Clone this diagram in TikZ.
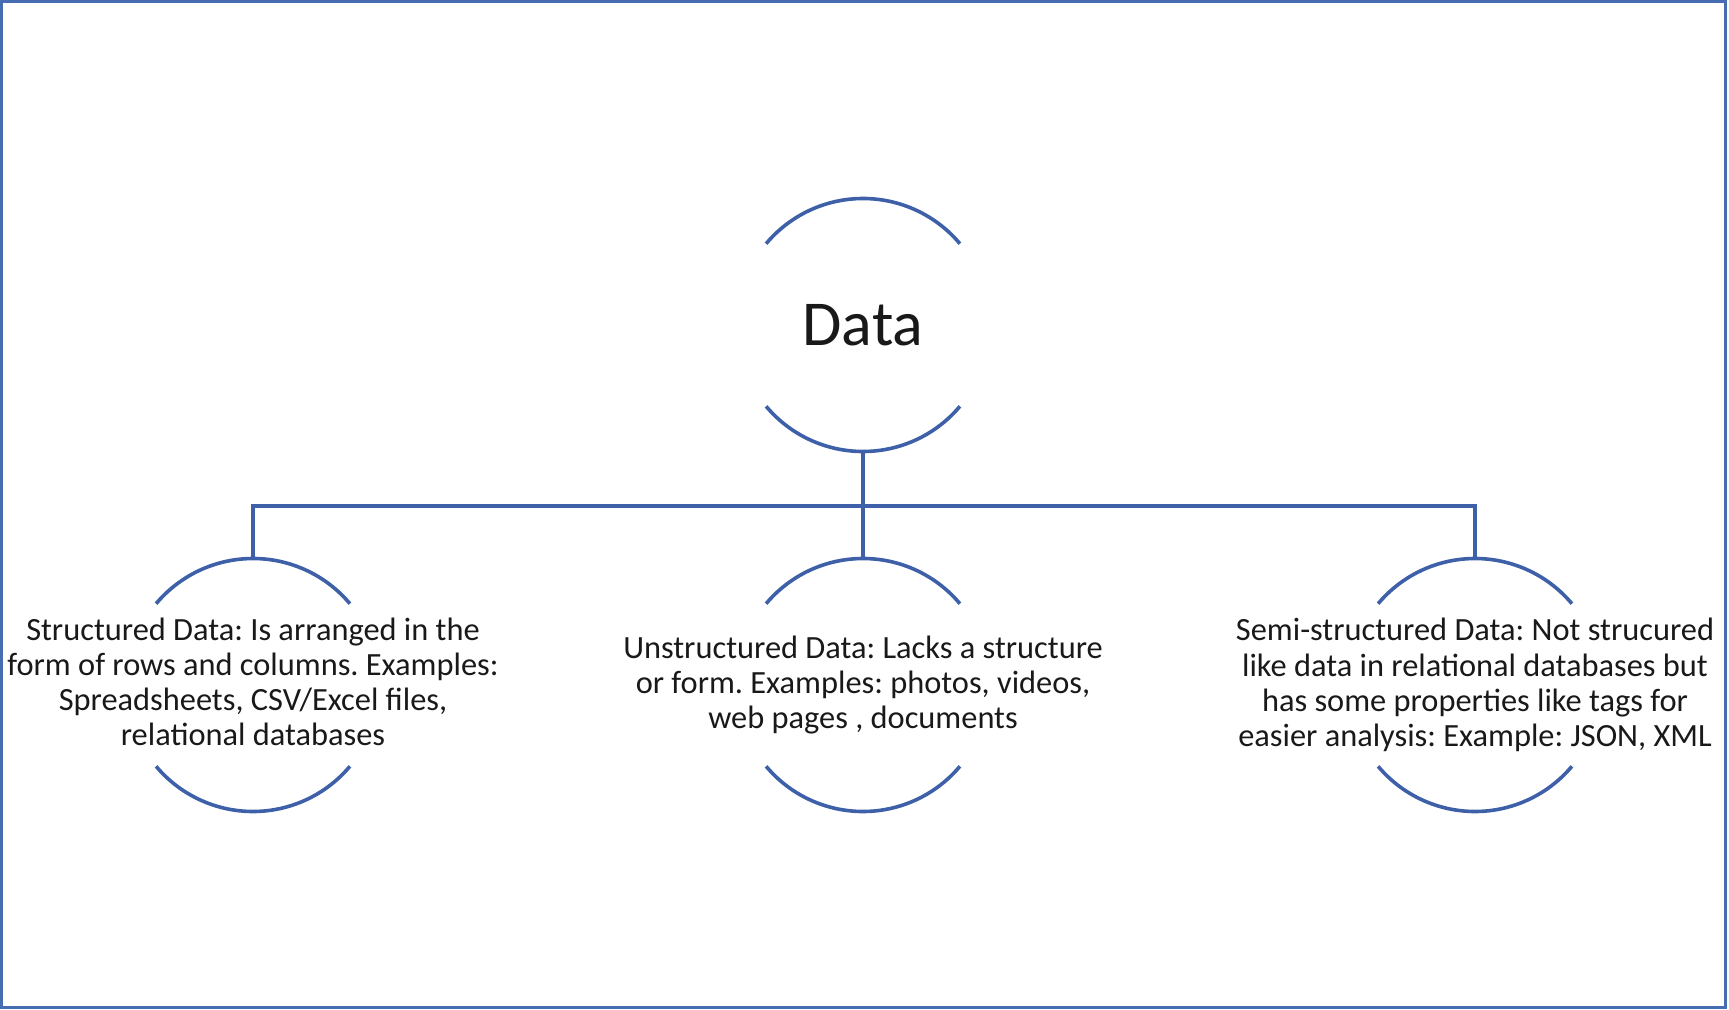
\documentclass[tikz,border=0pt]{standalone}
\usepackage{fontspec}
\setmainfont{Carlito}
\frenchspacing
\definecolor{ringblue}{RGB}{61,96,168}
\definecolor{frameblue}{RGB}{72,108,178}
\begin{document}
\begin{tikzpicture}[x=0.5pt,y=0.5pt,
        ring/.style={circle,minimum size=126.5pt,inner sep=0pt,outer sep=0pt},
        ringline/.style={ringblue,line width=1.8pt},
        desc/.style={align=center,font=\fontsize{16.2}{17.6}\selectfont,text=black!90}]
        \useasboundingbox (0,0) rectangle (1729,1009);
        %cadre
        \draw[frameblue,line width=1.5pt] (1.5,1.5) rectangle (1725.5,1007.5);
        %cercles
        \node[ring] (data) at (863,684) {};
        \node[ring] (struct) at (253,324) {};
        \node[ring] (unstruct) at (863,324) {};
        \node[ring] (semi) at (1475,324) {};
        \foreach \n in {data,struct,unstruct,semi}{
            \draw[ringline] (\n.40) arc(40:140:63.25pt);
            \draw[ringline] (\n.220) arc(220:320:63.25pt);
        }
        %liens
        \coordinate (bar) at (863,503.3);
        \draw[ringline] (data.south) -- (unstruct.north);
        \draw[ringline] (struct.north) |- (bar) -| (semi.north);
        %textes
        \node[font=\fontsize{32}{38}\selectfont,text=black!90] (datatxt) at (data) {Data};
        \node[desc] (structtxt) at ([yshift=1.5]struct) {Structured Data: Is arranged in the\\form of rows and columns. Examples:\\Spreadsheets, CSV/Excel files,\\relational databases};
        \node[desc] (unstructtxt) at (unstruct) {Unstructured Data: Lacks a structure\\or form. Examples: photos, videos,\\web pages , documents};
        \node[desc] (semitxt) at (semi) {Semi-structured Data: Not strucured\\like data in relational databases but\\has some properties like tags for\\easier analysis: Example: JSON, XML};
\end{tikzpicture}
\end{document}
